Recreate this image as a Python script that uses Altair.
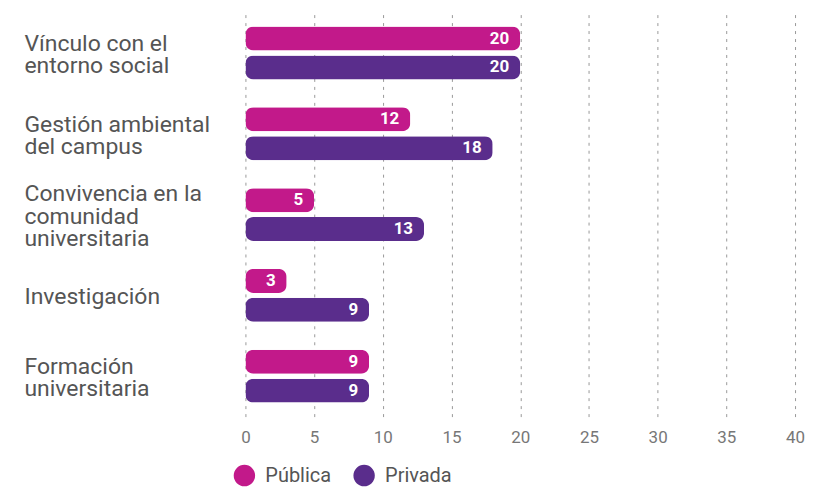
import altair as alt
import pandas as pd

categories = [
    "Vínculo con el\nentorno social",
    "Gestión ambiental\ndel campus",
    "Convivencia en la\ncomunidad\nuniversitaria",
    "Investigación",
    "Formación\nuniversitaria",
]
publica = [20, 12, 5, 3, 9]
privada = [20, 18, 13, 9, 9]
series = ["Pública", "Privada"]
colors = ["#C2198A", "#5A2D8C"]
x_ticks = [0, 5, 10, 15, 20, 25, 30, 35, 40]

rows = []
for c, a, b in zip(categories, publica, privada):
    rows.append({"cat": c, "serie": series[0], "valor": a})
    rows.append({"cat": c, "serie": series[1], "valor": b})
df = pd.DataFrame(rows)

FONT = "Roboto"
LH = 22.5

y = alt.Y(
    "cat:N",
    sort=categories,
    scale=alt.Scale(paddingInner=0.346, paddingOuter=0.173),
    axis=alt.Axis(
        title=None, ticks=False, domain=False, labelAlign="left",
        labelBaseline="middle", labelPadding=222,
        labelExpr="split(datum.label, '\\n')", labelFontSize=23,
        labelColor="#555555", labelFont=FONT, labelLineHeight=LH,
        labelOffset={"expr": f"2 - (length(split(datum.value, '\\n')) - 1) * {LH / 2}"},
        labelLimit=0, labelOverlap=False,
    ),
)
yoff = alt.YOffset("serie:N", sort=series,
                   scale=alt.Scale(paddingInner=0.17, paddingOuter=0))

base = alt.Chart(df)

bars = base.mark_bar(cornerRadius=8).encode(
    y=y,
    yOffset=yoff,
    x=alt.X(
        "valor:Q",
        scale=alt.Scale(domain=[0, 40], nice=False),
        axis=alt.Axis(
            values=x_ticks, grid=True, gridDash=[3, 5], gridColor="#999999",
            gridWidth=1, ticks=False, domain=False, labelFontSize=17,
            labelColor="#777777", labelFont=FONT, labelPadding=13,
            labelFlush=False, title=None,
        ),
    ),
    color=alt.Color(
        "serie:N",
        sort=series,
        scale=alt.Scale(domain=series, range=colors),
        legend=alt.Legend(
            orient="none", legendX=-12, legendY=453, direction="horizontal",
            title=None, symbolType="circle", symbolSize=460,
            symbolStrokeWidth=0, symbolOpacity=1, labelFontSize=20,
            labelColor="#555555", labelFont=FONT, columnPadding=22,
            labelOffset=10, padding=0,
        ),
    ),
)

text = base.mark_text(
    align="right", baseline="middle", dx=-11, color="white",
    fontWeight="bold", fontSize=17, font=FONT,
).encode(
    y=y,
    yOffset=yoff,
    x=alt.X("valor:Q"),
    text=alt.Text("valor:Q"),
)

chart = alt.layer(bars, text).properties(
    width=551,
    height=405,
    autosize=alt.AutoSizeParams(type="none"),
    padding={"left": 238, "top": 4, "right": 15, "bottom": 74},
).configure_view(stroke=None)

chart.save("out.html", embed_options={"renderer": "svg", "actions": False})
